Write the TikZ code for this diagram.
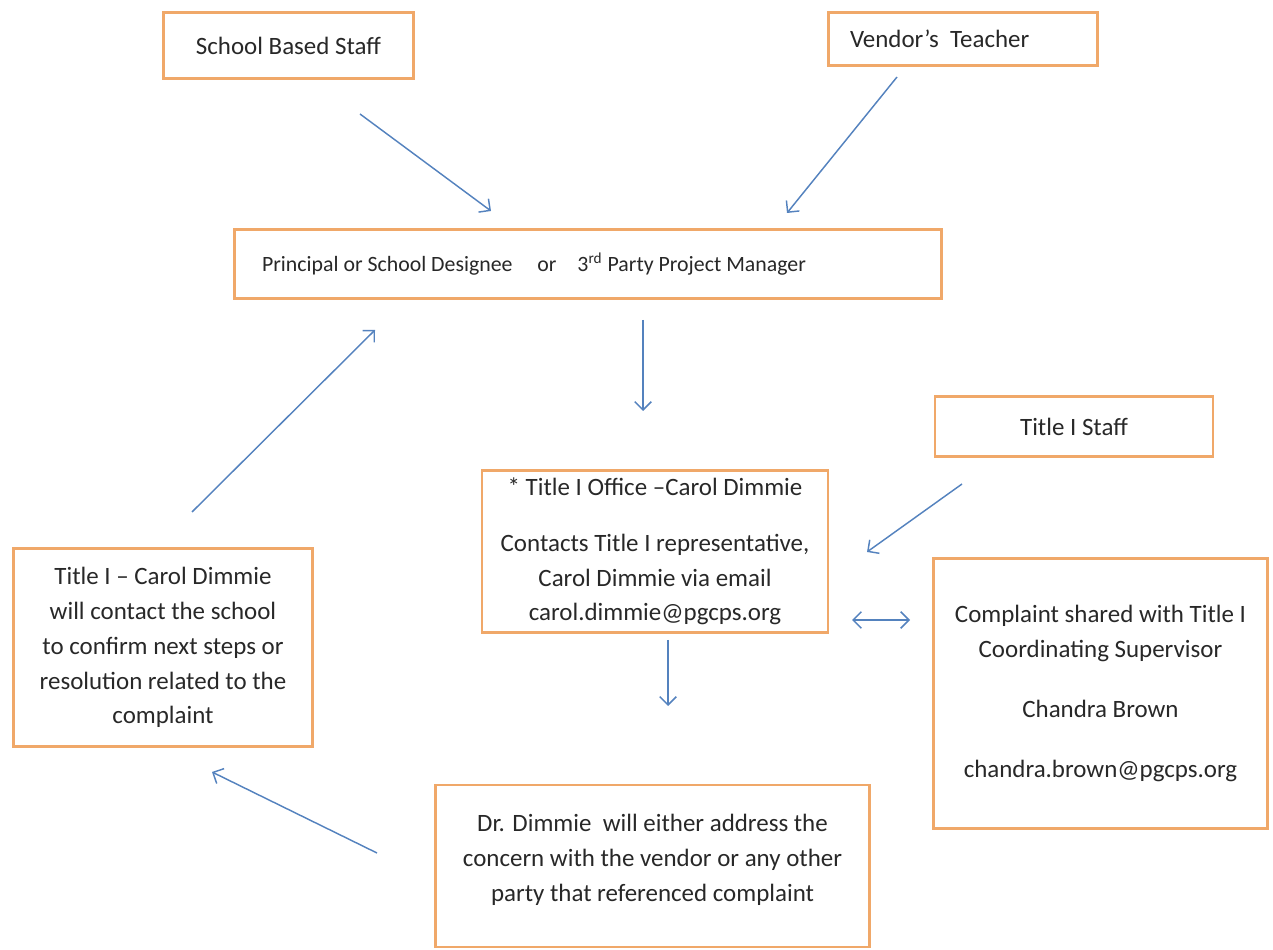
\documentclass[tikz,border=0pt]{standalone}
\usepackage{fontspec}
\setmainfont{Carlito}
\usetikzlibrary{arrows.meta}
\definecolor{boxorange}{RGB}{240,168,105}
\definecolor{arrowblue}{RGB}{84,130,190}
\definecolor{textgray}{RGB}{40,40,40}

\begin{document}
\begin{tikzpicture}[
        x=0.0169cm,
        y=-0.0169cm,
        font=\fontsize{12}{16.8}\selectfont,
        text=textgray
    ]
    \tikzset{
        mybox/.style = {rectangle, draw=boxorange, line width=1.4pt, inner sep=0pt, align=center, fill=white},
        myboxl/.style = {mybox, align=flush left, inner ysep=0pt},
        arrowb/.style = {-{Straight Barb[length=4pt,width=8pt]}, arrowblue, line width=0.7pt},
        arrowbb/.style = {{Straight Barb[length=4pt,width=8pt]}-{Straight Barb[length=4pt,width=8pt]}, arrowblue, line width=0.7pt},
    }
    \useasboundingbox (0,0) rectangle (1273,950);
    \node[mybox, minimum width=4.24cm, minimum height=1.13cm] at (288.5,45.5) (staff) {School Based Staff};
    \node[myboxl, inner xsep=0.37cm, text width=3.82cm, minimum height=0.91cm] at (963,39) (vendor) {Vendor’s\ \ Teacher};
    \node[myboxl, inner xsep=0.47cm, text width=11.02cm, minimum height=1.18cm, font=\fontsize{10.5}{14}\selectfont] at (588,264) (principal) {Principal or School Designee\hspace{12pt}or\hspace{10pt}3\textsuperscript{rd} Party Project Manager};
    \node[mybox, minimum width=4.70cm, minimum height=1.0cm] at (1074,426.5) (tstaff) {Title I Staff};
    \node[mybox, minimum width=5.85cm, minimum height=2.75cm] at (655,551.5) (office) {* Title I Office –Carol Dimmie\\[10pt] Contacts Title I representative,\\ Carol Dimmie via email\\ carol.dimmie@pgcps.org};
    \node[mybox, minimum width=5.07cm, minimum height=3.36cm] at (163,647.5) (resolve) {Title I – Carol Dimmie\\ will contact the school\\ to confirm next steps or\\ resolution related to the\\ complaint};
    \node[mybox, minimum width=5.66cm, minimum height=4.58cm] at (1100.5,693.5) (coord) {Complaint shared with Title I\\ Coordinating Supervisor\\[12pt] Chandra Brown\\[12pt] chandra.brown@pgcps.org};
    \node[mybox, minimum width=7.35cm, minimum height=2.74cm] at (652.5,866) (address) {Dr. Dimmie\ \ will either address the\\ concern with the vendor or any other\\ party that referenced complaint\\[-9pt]\mbox{}};
    %
    \coordinate (s1) at (360,114);
    \coordinate (s2) at (491,211);
    \coordinate (v1) at (897,77);
    \coordinate (v2) at (787,213);
    \coordinate (p1) at (643,320);
    \coordinate (p2) at (643,411);
    \coordinate (r1) at (192,512);
    \coordinate (r2) at (375,330);
    \coordinate (t1) at (962,484);
    \coordinate (t2) at (867,552);
    \coordinate (c1) at (852,620);
    \coordinate (c2) at (910,620);
    \coordinate (o1) at (668,640);
    \coordinate (o2) at (668,706);
    \coordinate (a1) at (377,853);
    \coordinate (a2) at (212,772);
    %
    \draw[arrowb] (s1) -- (s2);
    \draw[arrowb] (v1) -- (v2);
    \draw[arrowb] (p1) -- (p2);
    \draw[arrowb] (r1) -- (r2);
    \draw[arrowb] (t1) -- (t2);
    \draw[arrowbb] (c1) -- (c2);
    \draw[arrowb] (o1) -- (o2);
    \draw[arrowb] (a1) -- (a2);
\end{tikzpicture}
\end{document}
